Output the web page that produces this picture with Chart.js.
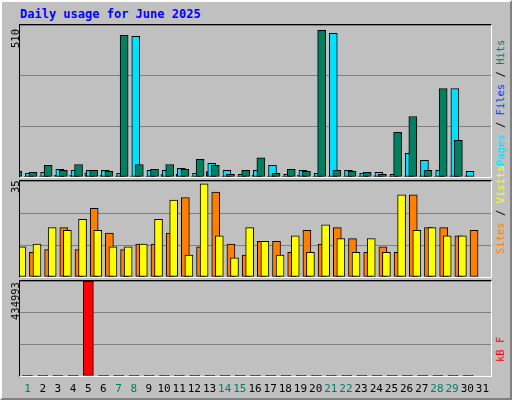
<!DOCTYPE html>
<html><head><meta charset="utf-8">
<script src="https://cdn.jsdelivr.net/npm/chart.js@4"></script>
<style>
body{margin:0;width:512px;height:400px;overflow:hidden;background:#fff;font-family:"DejaVu Sans Mono",monospace}
#frame{position:absolute;left:0;top:0;background:#c0c0c0;border-right:2px solid #808080;border-bottom:2px solid #808080;border-left:2px solid #fff;border-top:2px solid #fff;box-sizing:border-box;width:512px;height:400px}
.title{position:absolute;left:20px;top:7px;color:#0000ff;font-weight:bold;font-size:12px}
.panel{position:absolute;left:19px;width:471px;border-top:1px solid #000;border-left:1px solid #000;border-right:1px solid #fff;border-bottom:1px solid #fff}
.panel div{position:absolute;left:0;top:0;width:100%;height:100%}
.vl{position:absolute;font-size:10.5px;transform-origin:0 0;transform:rotate(-90deg);white-space:nowrap}
.xl{position:absolute;top:382px;font-size:11px;width:20px;text-align:center;margin-left:-10px}
</style></head><body>
<div id="frame"></div>
<div class="title">Daily usage for June 2025</div>
<div class="panel" style="top:24px;height:152px"><div><canvas id="c1"></canvas></div></div>
<div class="panel" style="top:180px;height:96px"><div><canvas id="c2"></canvas></div></div>
<div class="panel" style="top:280px;height:95px"><div><canvas id="c3"></canvas></div></div>
<div class="vl" style="left:9px;top:48px">510</div>
<div class="vl" style="left:9px;top:193px">35</div>
<div class="vl" style="left:9px;top:320px">434993</div>
<div class="vl" style="left:494px;top:166px"><span style="color:#00e0ff">Pages</span> / <span style="color:#0040ff">Files</span> / <span style="color:#008060">Hits</span></div>
<div class="vl" style="left:494px;top:254px"><span style="color:#ff8000">Sites</span> / <span style="color:#ffff00">Visits</span></div>
<div class="vl" style="left:494px;top:362px;color:#ff0000">kB F</div>
<div id="xlabels"></div>
<script>
const days = Array.from({length: 31}, (_, i) => i + 1);
const weekend = [1, 7, 8, 14, 15, 21, 22, 28, 29];
const hits = [19,16,39,22,42,22,19,475,42,26,42,26,59,39,9,22,64,12,26,19,492,22,19,16,9,150,203,22,297,123,0];
const files = [12,16,26,22,22,22,12,472,22,22,29,12,46,22,9,22,39,9,22,12,482,22,12,16,9,79,56,22,297,19,0];
const pages = [2,2,6,6,14,6,2,3,2,8,10,2,18,2,1,6,2,1,6,2,3,2,3,4,1,3,3,2,3,4,0];
const visits = [11,12,18,17,21,17,11,11,12,21,28,8,34,15,7,18,13,8,15,9,19,14,9,14,9,30,17,18,15,15,0];
const sites = [9,10,18,10,25,16,10,12,12,16,29,11,31,12,8,13,13,9,17,12,18,14,9,11,9,30,18,18,15,17,0];
const kbytes = [3000,3000,3000,3000,434993,3000,3000,3000,3000,3000,3000,3000,3000,3000,3000,3000,3000,3000,3000,3000,3000,3000,3000,3000,3000,3000,3000,3000,3000,3000,0];

function pts(arr, off) { return arr.map((v, i) => ({x: days[i] + off, y: v})); }
function ds(arr, off, color, w, order) {
    return {data: pts(arr, off), backgroundColor: color, borderColor: '#000', borderWidth: 1,
            borderSkipped: false, barThickness: w, order: order};
}
function make(id, max, sets) {
    new Chart(document.getElementById(id), {
        type: 'bar',
        data: {datasets: sets},
        options: {
            responsive: true, maintainAspectRatio: false, animation: false,
            layout: {padding: 0},
            plugins: {legend: {display: false}, tooltip: {enabled: false}},
            scales: {
                x: {type: 'linear', min: 0.5, max: 31.5, offset: false, display: false},
                y: {min: 0, max: max, ticks: {display: false, stepSize: max / 3},
                    grid: {color: '#808080', drawTicks: false}, border: {display: false}}
            }
        }
    });
}
make('c1', 510, [
    ds(pages, -0.3, '#0040ff', 2, 2),
    ds(files, 0.12, '#00e0ff', 8, 1),
    ds(hits, -0.12, '#008060', 8, 0)
]);
make('c2', 35, [
    ds(sites, 0.12, '#ff8000', 8, 1),
    ds(visits, -0.12, '#ffff00', 8, 0)
]);
make('c3', 434993, [
    {data: pts(kbytes, 0), backgroundColor: kbytes.map(v => v > 10000 ? '#ff0000' : '#000'),
     borderColor: '#000', borderWidth: 1, borderSkipped: false, barThickness: 10}
]);

const xl = document.getElementById('xlabels');
days.forEach(d => {
    const s = document.createElement('div');
    s.className = 'xl';
    s.textContent = d;
    s.style.left = (20 + (d - 0.5) * 470 / 31) + 'px';
    s.style.color = weekend.includes(d) ? '#008060' : '#000';
    xl.appendChild(s);
});
</script>
</body></html>
